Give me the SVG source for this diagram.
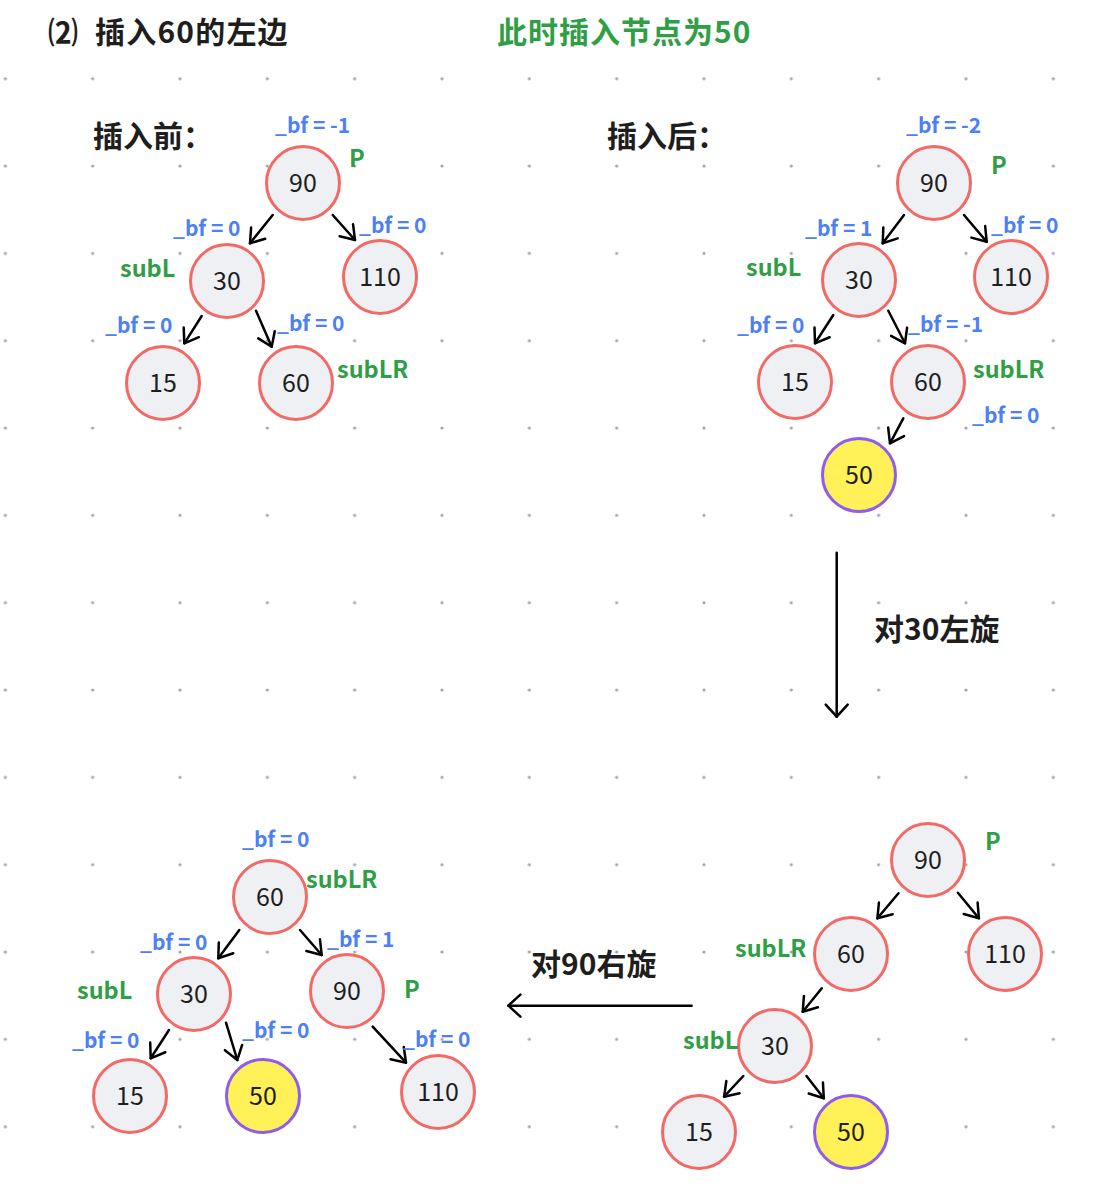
<svg xmlns="http://www.w3.org/2000/svg" width="1110" height="1202" viewBox="0 0 1110 1202">
<defs>
<style>
text{font-family:"Noto Sans CJK SC","Noto Sans",sans-serif}
.n circle{fill:#eef0f3;stroke:#f26a66;stroke-width:3}
.y circle{fill:#fff157;stroke:#8f5cf0;stroke-width:3}
.n text,.y text{font-size:25px;fill:#1e1e1e;text-anchor:middle}
.bf{font-size:21px;font-weight:600;fill:#4d7ff5}
.tag{font-size:23.5px;font-weight:700;fill:#2f9e44}
.h{font-size:30px;font-weight:700;fill:#1e1e1e}
.g{font-size:30px;font-weight:700;fill:#2f9e44;letter-spacing:1px}
.conn line{stroke:#000;stroke-width:2.5;stroke-linecap:round;fill:none}
.sm{marker-end:url(#ah)}
.bg{marker-end:url(#ahb)}
</style>
<marker id="ah" markerUnits="userSpaceOnUse" orient="auto" refX="0" refY="0" markerWidth="30" markerHeight="30" viewBox="-20 -15 30 30" overflow="visible">
<path d="M-13,-9 L0,0 L-13,9" fill="none" stroke="#000" stroke-width="2.5" stroke-linecap="round" stroke-linejoin="round"/>
</marker>
<marker id="ahb" markerUnits="userSpaceOnUse" orient="auto" refX="0" refY="0" markerWidth="30" markerHeight="30" viewBox="-20 -15 30 30" overflow="visible">
<path d="M-12,-11 L0,0 L-12,11" fill="none" stroke="#000" stroke-width="2.5" stroke-linecap="round" stroke-linejoin="round"/>
</marker>
<pattern id="dots" patternUnits="userSpaceOnUse" x="-38.33" y="35.03" width="87.33" height="87.33">
<circle cx="43.67" cy="43.67" r="1.6" fill="#a0a4ab"/>
</pattern>
</defs>
<rect width="1110" height="1202" fill="#ffffff"/>
<rect width="1110" height="1202" fill="url(#dots)"/>

<g id="titles">
<text class="h" x="48" y="43">⑵<tspan x="95" letter-spacing="1.2">插入60的左边</tspan></text>
<text class="g" x="497" y="43">此时插入节点为50</text>
<text class="h" x="93" y="147">插入前：</text>
<text class="h" x="607" y="147">插入后：</text>
<text class="h" x="874" y="640">对30左旋</text>
<text class="h" x="531" y="975">对90右旋</text>
</g>

<g class="conn" id="connectors">
<line class="sm" x1="272.7" y1="215" x2="250" y2="243.3"/>
<line class="sm" x1="332.7" y1="215" x2="355" y2="240"/>
<line class="sm" x1="201.7" y1="316" x2="184.3" y2="343.3"/>
<line class="sm" x1="256" y1="310.7" x2="271.7" y2="346.7"/>
<line class="sm" x1="904" y1="215" x2="882.7" y2="243.3"/>
<line class="sm" x1="964" y1="215" x2="986.7" y2="241.7"/>
<line class="sm" x1="833.3" y1="315" x2="815" y2="343.3"/>
<line class="sm" x1="888.3" y1="310.7" x2="905" y2="343.3"/>
<line class="sm" x1="903.3" y1="418.3" x2="890" y2="443.3"/>
<line class="sm" x1="898.5" y1="893.3" x2="877.4" y2="918.3"/>
<line class="sm" x1="957.9" y1="892.7" x2="978.9" y2="918.3"/>
<line class="sm" x1="821.8" y1="988.3" x2="802.7" y2="1011.7"/>
<line class="sm" x1="743.3" y1="1076" x2="724.1" y2="1096.7"/>
<line class="sm" x1="806.5" y1="1076" x2="823.8" y2="1098.3"/>
<line class="sm" x1="239.3" y1="930" x2="218.3" y2="958.3"/>
<line class="sm" x1="300" y1="930" x2="321.7" y2="955"/>
<line class="sm" x1="169" y1="1030" x2="150.7" y2="1058.3"/>
<line class="sm" x1="226" y1="1022.7" x2="237.3" y2="1060"/>
<line class="sm" x1="372.7" y1="1026.7" x2="406" y2="1062.7"/>
<line class="bg" x1="836.7" y1="552.7" x2="836.7" y2="716.7"/>
<line class="bg" x1="691.6" y1="1005.7" x2="508.4" y2="1005.7"/>
</g>

<g id="treeA">
<g id="a90" class="n"><circle cx="303" cy="183" r="36.5"/><text x="303" y="192">90</text></g>
<g id="a30" class="n"><circle cx="227" cy="281" r="36.5"/><text x="227" y="290">30</text></g>
<g id="a110" class="n"><circle cx="380" cy="277" r="36.5"/><text x="380" y="286">110</text></g>
<g id="a15" class="n"><circle cx="163" cy="383" r="36.5"/><text x="163" y="392">15</text></g>
<g id="a60" class="n"><circle cx="296" cy="383" r="36.5"/><text x="296" y="392">60</text></g>
<text class="bf" x="275" y="133">_bf = -1</text>
<text class="tag" x="349" y="167">P</text>
<text class="bf" x="173" y="236">_bf = 0</text>
<text class="bf" x="359" y="233">_bf = 0</text>
<text class="tag" x="120" y="277">subL</text>
<text class="bf" x="105" y="333">_bf = 0</text>
<text class="bf" x="277" y="331">_bf = 0</text>
<text class="tag" x="337" y="378">subLR</text>
</g>

<g id="treeB">
<g id="b90" class="n"><circle cx="934" cy="183" r="36.5"/><text x="934" y="192">90</text></g>
<g id="b30" class="n"><circle cx="859" cy="280" r="36.5"/><text x="859" y="289">30</text></g>
<g id="b110" class="n"><circle cx="1011" cy="277" r="36.5"/><text x="1011" y="286">110</text></g>
<g id="b15" class="n"><circle cx="795" cy="382" r="36.5"/><text x="795" y="391">15</text></g>
<g id="b60" class="n"><circle cx="928" cy="382" r="36.5"/><text x="928" y="391">60</text></g>
<g id="b50" class="y"><circle cx="859" cy="475" r="36.5"/><text x="859" y="484">50</text></g>
<text class="bf" x="906" y="133">_bf = -2</text>
<text class="tag" x="991" y="174">P</text>
<text class="bf" x="805" y="236">_bf = 1</text>
<text class="bf" x="991" y="233">_bf = 0</text>
<text class="tag" x="746" y="276">subL</text>
<text class="bf" x="737" y="333">_bf = 0</text>
<text class="bf" x="908" y="332">_bf = -1</text>
<text class="tag" x="973" y="378">subLR</text>
<text class="bf" x="972" y="423">_bf = 0</text>
</g>

<g id="treeC">
<g id="c90" class="n"><circle cx="928" cy="860" r="36.5"/><text x="928" y="869">90</text></g>
<g id="c60" class="n"><circle cx="851" cy="954" r="36.5"/><text x="851" y="963">60</text></g>
<g id="c110" class="n"><circle cx="1005" cy="954" r="36.5"/><text x="1005" y="963">110</text></g>
<g id="c30" class="n"><circle cx="775" cy="1046" r="36.5"/><text x="775" y="1055">30</text></g>
<g id="c15" class="n"><circle cx="699" cy="1132" r="36.5"/><text x="699" y="1141">15</text></g>
<g id="c50" class="y"><circle cx="851" cy="1132" r="36.5"/><text x="851" y="1141">50</text></g>
<text class="tag" x="985" y="850">P</text>
<text class="tag" x="735" y="957">subLR</text>
<text class="tag" x="683" y="1049">subL</text>
</g>

<g id="treeD">
<g id="d60" class="n"><circle cx="270" cy="897" r="36.5"/><text x="270" y="906">60</text></g>
<g id="d30" class="n"><circle cx="194" cy="994" r="36.5"/><text x="194" y="1003">30</text></g>
<g id="d90" class="n"><circle cx="347" cy="991" r="36.5"/><text x="347" y="1000">90</text></g>
<g id="d15" class="n"><circle cx="130" cy="1096" r="36.5"/><text x="130" y="1105">15</text></g>
<g id="d50" class="y"><circle cx="263" cy="1096" r="36.5"/><text x="263" y="1105">50</text></g>
<g id="d110" class="n"><circle cx="438" cy="1092" r="36.5"/><text x="438" y="1101">110</text></g>
<text class="bf" x="242" y="847">_bf = 0</text>
<text class="tag" x="306" y="888">subLR</text>
<text class="bf" x="140" y="950">_bf = 0</text>
<text class="bf" x="327" y="947">_bf = 1</text>
<text class="tag" x="77" y="999">subL</text>
<text class="tag" x="404" y="998">P</text>
<text class="bf" x="72" y="1048">_bf = 0</text>
<text class="bf" x="242" y="1038">_bf = 0</text>
<text class="bf" x="403" y="1047">_bf = 0</text>
</g>
</svg>
